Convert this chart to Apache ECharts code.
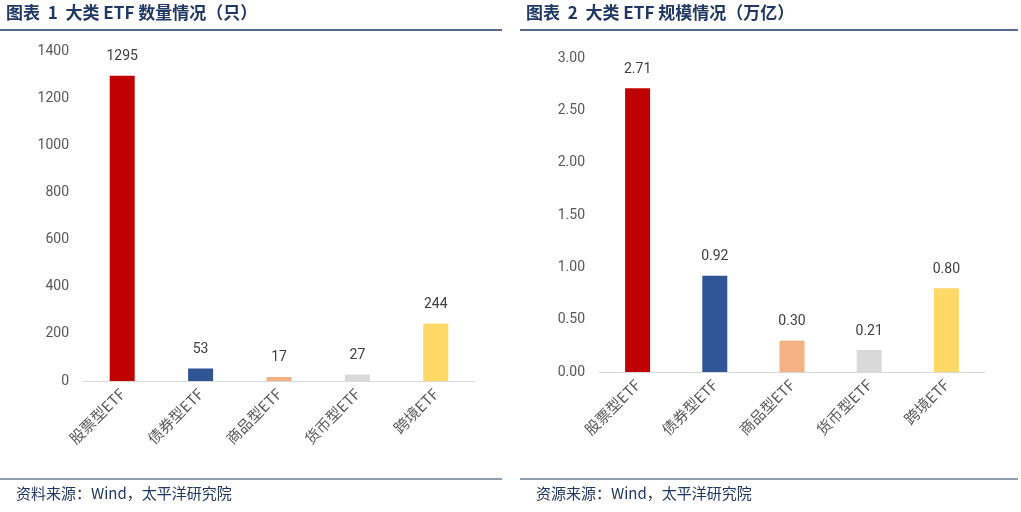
<!DOCTYPE html><html><head><meta charset="utf-8">
<script src="https://cdn.jsdelivr.net/npm/echarts@6/dist/echarts.min.js"></script>
<style>html,body{margin:0;padding:0;background:#fff}#c{width:1021px;height:512px}</style></head><body><div id="c"></div>
<script>
const categories=['股票型ETF','债券型ETF','商品型ETF','货币型ETF','跨境ETF'];
const countValues=[1295,53,17,27,244];
const scaleValues=[2.71,0.92,0.30,0.21,0.80];
const colors=['#C00000','#2F5597','#F4B183','#D9D9D9','#FFD966'];
const titles=['图表  1  大类 ETF 数量情况（只）','图表  2  大类 ETF 规模情况（万亿）'];
const sources=['资料来源：Wind，太平洋研究院','资源来源：Wind，太平洋研究院'];
const font='"Noto Sans CJK SC", sans-serif';
const chart=echarts.init(document.getElementById('c'));
const mk=(i,vals,dec)=>({type:'bar',xAxisIndex:i,yAxisIndex:i,barWidth:25,
 data:vals.map((v,k)=>({value:v,itemStyle:{color:colors[k]}})),
 label:{show:true,position:'top',distance:12,color:'#404040',fontSize:14,fontFamily:'Roboto',formatter:p=>dec?p.value.toFixed(2):String(p.value)}});
const xa=(i)=>({type:'category',gridIndex:i,data:categories,axisTick:{show:false},
 axisLine:{lineStyle:{color:'#D9D9D9'}},axisLabel:{rotate:45,color:'#595959',fontSize:15,fontFamily:font,margin:10}});
const ya=(i,max,int,dec)=>({type:'value',gridIndex:i,min:0,max:max,interval:int,splitLine:{show:false},
 axisLabel:{color:'#595959',fontSize:14,fontFamily:'Roboto',margin:14,formatter:v=>dec?v.toFixed(2):v}});
const lines=[];
[[0,505],[520,1021]].forEach(([a,b],i)=>{
 lines.push({type:'text',left:a+6,top:4,style:{text:titles[i],fill:'#1F3864',font:'bold 17px '+font}});
 lines.push({type:'line',shape:{x1:a,y1:30,x2:b-3,y2:30},style:{stroke:'#1F3864',lineWidth:1.5}});
 lines.push({type:'line',shape:{x1:a,y1:479,x2:b-3,y2:479},style:{stroke:'#1F3864',lineWidth:1}});
 lines.push({type:'text',left:a+16,top:486,style:{text:sources[i],fill:'#1F3864',font:'15px '+font}});
});
chart.setOption({animation:false,
 grid:[{left:83,top:51,width:392,height:330},{left:599,top:58,width:386,height:314}],
 xAxis:[xa(0),xa(1)],
 yAxis:[ya(0,1400,200,false),ya(1,3,0.5,true)],
 series:[mk(0,countValues,false),mk(1,scaleValues,true)],
 graphic:lines});
</script></body></html>
